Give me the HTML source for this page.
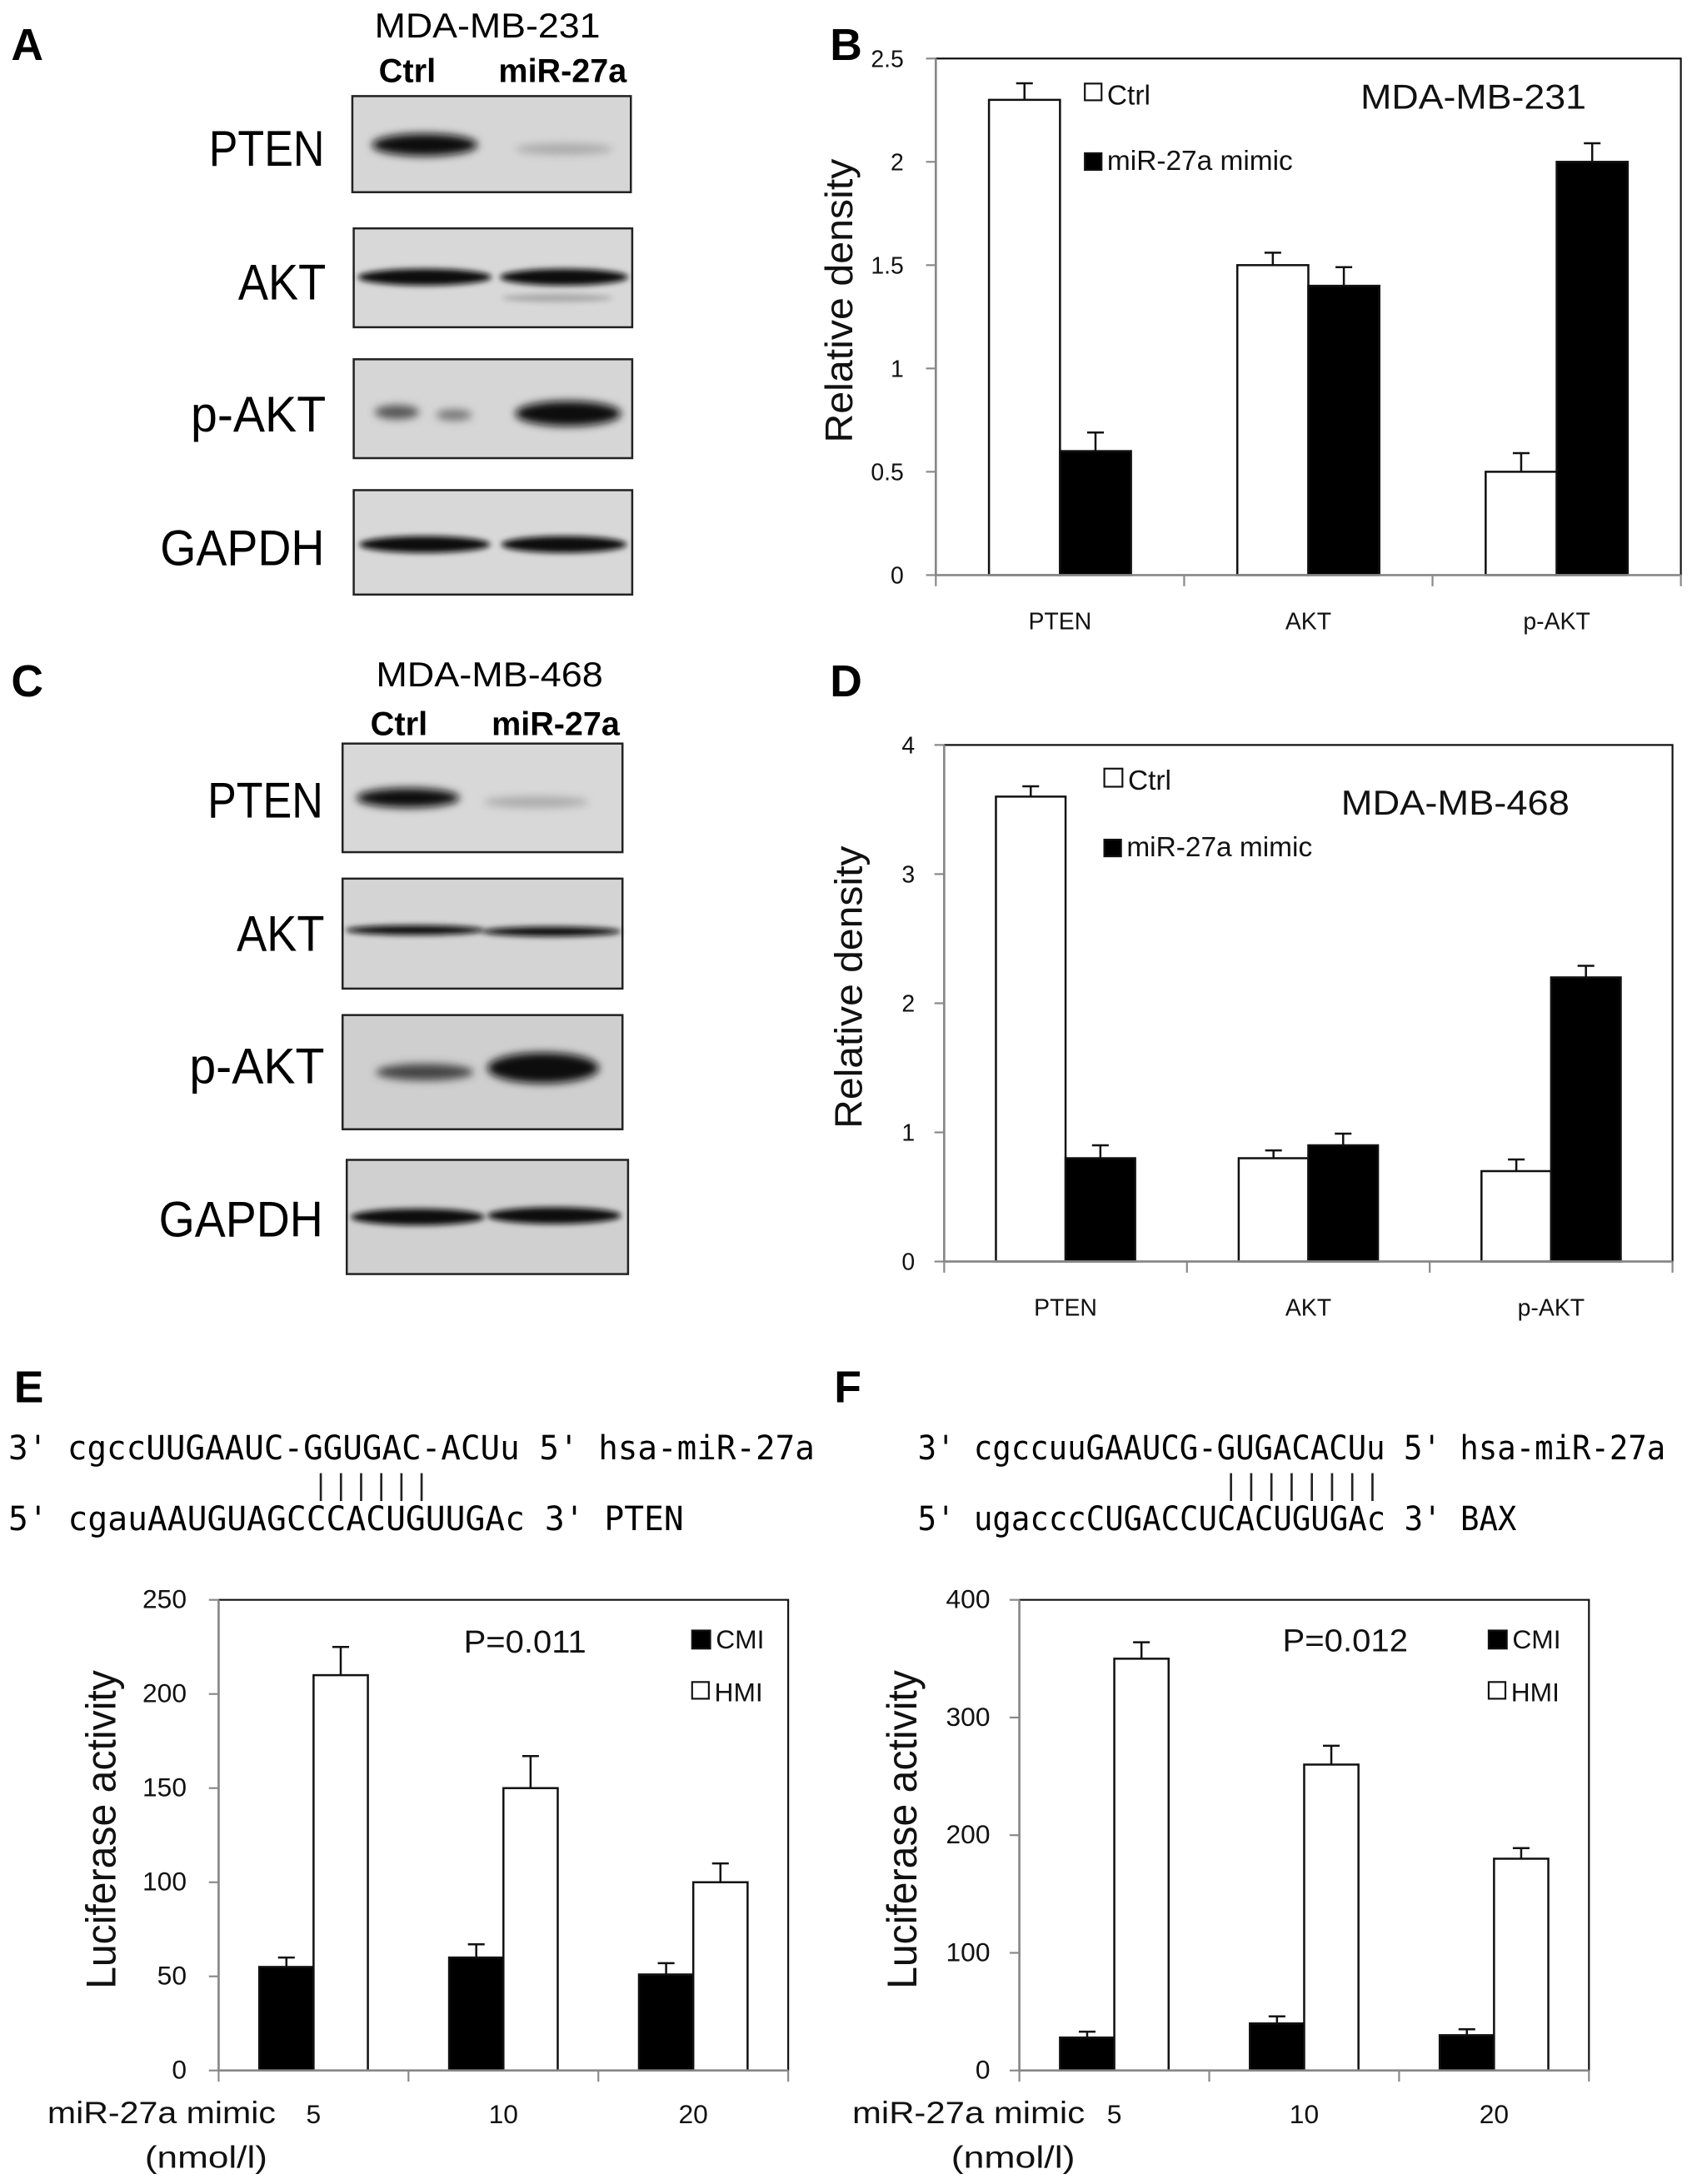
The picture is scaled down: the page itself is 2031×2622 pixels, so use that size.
<!DOCTYPE html>
<html><head><meta charset="utf-8">
<style>
html,body{margin:0;padding:0;background:#fff;}
svg{display:block;}
text{font-family:"Liberation Sans",sans-serif;}
.mono{font-family:"DejaVu Sans Mono","Liberation Mono",monospace;}
</style></head>
<body>
<svg id="fig" xmlns="http://www.w3.org/2000/svg" width="2031" height="2622" viewBox="0 0 1215 1568.5">
<defs>
<filter id="blur3" x="-20%" y="-100%" width="140%" height="300%"><feGaussianBlur stdDeviation="3"/></filter>
<filter id="blur2" x="-20%" y="-100%" width="140%" height="300%"><feGaussianBlur stdDeviation="2"/></filter>
</defs>
<rect x="0" y="0" width="1215" height="1568.5" fill="#fff"/>

<!-- Panel letters -->
<g font-weight="bold" font-size="32">
<text x="8" y="43">A</text>
<text x="596" y="43">B</text>
<text x="8" y="500">C</text>
<text x="596" y="500">D</text>
<text x="10" y="1007">E</text>
<text x="599" y="1007">F</text>
</g>

<!-- Panel A blots -->
<g>
<text x="269" y="27" font-size="25" textLength="162" lengthAdjust="spacingAndGlyphs">MDA-MB-231</text>
<text x="272" y="59" font-size="24" font-weight="bold" textLength="41" lengthAdjust="spacingAndGlyphs">Ctrl</text>
<text x="358" y="59" font-size="24" font-weight="bold" textLength="92" lengthAdjust="spacingAndGlyphs">miR-27a</text>
<g font-size="36">
<text x="233" y="119" text-anchor="end" textLength="83" lengthAdjust="spacingAndGlyphs">PTEN</text>
<text x="234" y="215" text-anchor="end" textLength="63" lengthAdjust="spacingAndGlyphs">AKT</text>
<text x="234" y="310" text-anchor="end" textLength="97" lengthAdjust="spacingAndGlyphs">p-AKT</text>
<text x="233" y="406" text-anchor="end" textLength="118" lengthAdjust="spacingAndGlyphs">GAPDH</text>
</g>
<g>
<rect x="253" y="69" width="200" height="69" fill="#d6d6d6" stroke="#222" stroke-width="1.5"/>
<ellipse cx="305" cy="104" rx="38" ry="8" fill="#111" filter="url(#blur3)"/>
<ellipse cx="405" cy="107" rx="35" ry="4" fill="#aaa" filter="url(#blur3)"/>
</g>
<g>
<rect x="254" y="164" width="200" height="71" fill="#d8d8d8" stroke="#222" stroke-width="1.5"/>
<ellipse cx="305" cy="199" rx="48" ry="6" fill="#111" filter="url(#blur2)"/>
<ellipse cx="405" cy="199" rx="46" ry="6" fill="#111" filter="url(#blur2)"/>
<ellipse cx="400" cy="214" rx="40" ry="3" fill="#aaa" filter="url(#blur2)"/>
</g>
<g>
<rect x="254" y="258" width="200" height="71" fill="#d6d6d6" stroke="#222" stroke-width="1.5"/>
<ellipse cx="285" cy="296" rx="16" ry="5" fill="#555" filter="url(#blur3)"/>
<ellipse cx="326" cy="298" rx="13" ry="4" fill="#777" filter="url(#blur3)"/>
<ellipse cx="408" cy="297" rx="38" ry="9" fill="#111" filter="url(#blur3)"/>
</g>
<g>
<rect x="254" y="352" width="200" height="75" fill="#d8d8d8" stroke="#222" stroke-width="1.5"/>
<ellipse cx="305" cy="391" rx="47" ry="6" fill="#111" filter="url(#blur2)"/>
<ellipse cx="405" cy="391" rx="45" ry="6" fill="#111" filter="url(#blur2)"/>
</g>
</g>

<!-- Panel C blots -->
<g>
<text x="270" y="493" font-size="25" textLength="163" lengthAdjust="spacingAndGlyphs">MDA-MB-468</text>
<text x="266" y="528" font-size="24" font-weight="bold" textLength="41" lengthAdjust="spacingAndGlyphs">Ctrl</text>
<text x="353" y="528" font-size="24" font-weight="bold" textLength="92" lengthAdjust="spacingAndGlyphs">miR-27a</text>
<g font-size="36">
<text x="232" y="587" text-anchor="end" textLength="83" lengthAdjust="spacingAndGlyphs">PTEN</text>
<text x="233" y="683" text-anchor="end" textLength="63" lengthAdjust="spacingAndGlyphs">AKT</text>
<text x="233" y="778" text-anchor="end" textLength="97" lengthAdjust="spacingAndGlyphs">p-AKT</text>
<text x="232" y="888" text-anchor="end" textLength="118" lengthAdjust="spacingAndGlyphs">GAPDH</text>
</g>
<g>
<rect x="246" y="534" width="201" height="78" fill="#d8d8d8" stroke="#222" stroke-width="1.5"/>
<ellipse cx="293" cy="573" rx="37" ry="7" fill="#111" filter="url(#blur3)"/>
<ellipse cx="385" cy="576" rx="38" ry="4" fill="#aaa" filter="url(#blur3)"/>
</g>
<g>
<rect x="246" y="631" width="201" height="79" fill="#d4d4d4" stroke="#222" stroke-width="1.5"/>
<ellipse cx="298" cy="668" rx="50" ry="3.5" fill="#111" filter="url(#blur2)"/>
<ellipse cx="396" cy="669" rx="50" ry="3.5" fill="#111" filter="url(#blur2)"/>
</g>
<g>
<rect x="246" y="729" width="201" height="82" fill="#cfcfcf" stroke="#222" stroke-width="1.5"/>
<ellipse cx="305" cy="770" rx="35" ry="6" fill="#444" filter="url(#blur3)"/>
<ellipse cx="390" cy="767" rx="40" ry="11" fill="#111" filter="url(#blur3)"/>
</g>
<g>
<rect x="249" y="833" width="202" height="82" fill="#d0d0d0" stroke="#222" stroke-width="1.5"/>
<ellipse cx="300" cy="874" rx="48" ry="6" fill="#111" filter="url(#blur2)"/>
<ellipse cx="398" cy="873" rx="48" ry="6" fill="#111" filter="url(#blur2)"/>
</g>
</g>

<!-- Sequences -->
<g class="mono" font-size="24">
<text class="mono" x="6" y="1048" xml:space="preserve" textLength="579" lengthAdjust="spacingAndGlyphs">3' cgccUUGAAUC-GGUGAC-ACUu 5' hsa-miR-27a</text>
<text class="mono" x="6" y="1099" xml:space="preserve" textLength="485" lengthAdjust="spacingAndGlyphs">5' cgauAAUGUAGCCCACUGUUGAc 3' PTEN</text>
<text class="mono" x="659" y="1048" xml:space="preserve" textLength="537" lengthAdjust="spacingAndGlyphs">3' cgccuuGAAUCG-GUGACACUu 5' hsa-miR-27a</text>
<text class="mono" x="659" y="1099" xml:space="preserve" textLength="430" lengthAdjust="spacingAndGlyphs">5' ugacccCUGACCUCACUGUGAc 3' BAX</text>
</g>
<g id="pipes" stroke="#222" stroke-width="1.6"></g>

<g id="charts"></g>
</svg>

<script>
// ===== Chart B data =====
var bCategories = ["PTEN", "AKT", "p-AKT"];
var bCtrl = [2.3, 1.5, 0.5];
var bCtrlErr = [0.08, 0.06, 0.09];
var bMimic = [0.6, 1.4, 2.0];
var bMimicErr = [0.09, 0.09, 0.09];
var bTicks = ["0", "0.5", "1", "1.5", "2", "2.5"];
// ===== Chart D data =====
var dCategories = ["PTEN", "AKT", "p-AKT"];
var dCtrl = [3.6, 0.8, 0.7];
var dCtrlErr = [0.08, 0.06, 0.09];
var dMimic = [0.8, 0.9, 2.2];
var dMimicErr = [0.1, 0.09, 0.09];
var dTicks = ["0", "1", "2", "3", "4"];
// ===== Chart E data =====
var eCategories = ["5", "10", "20"];
var eCMI = [55, 60, 51];
var eCMIErr = [5, 7, 6];
var eHMI = [210, 150, 100];
var eHMIErr = [15, 17, 10];
var eTicks = ["0", "50", "100", "150", "200", "250"];
// ===== Chart F data =====
var fCategories = ["5", "10", "20"];
var fCMI = [28, 40, 30];
var fCMIErr = [5, 6, 5];
var fHMI = [350, 260, 180];
var fHMIErr = [14, 16, 9];
var fTicks = ["0", "100", "200", "300", "400"];

var NS = "http://www.w3.org/2000/svg";
function mk(tag, attrs, parent) {
  var e = document.createElementNS(NS, tag);
  for (var k in attrs) e.setAttribute(k, attrs[k]);
  if (parent) parent.appendChild(e);
  return e;
}

// base-pair pipes
(function () {
  var g = document.getElementById("pipes");
  var cw = 14.475;
  var sets = [{x0: 6, start: 15, n: 6}, {x0: 659, start: 15, n: 8}];
  sets.forEach(function (s) {
    var w = s.x0 === 6 ? 579 / 40 : 537 / 37;
    for (var i = 0; i < s.n; i++) {
      var x = s.x0 + (s.start + i + 0.5) * w;
      var l = mk("line", {x1: x, x2: x, y1: 1058, y2: 1078}, g);
      
      
    }
  });
})();

function chart(cfg) {
  var root = document.getElementById("charts");
  var g = mk("g", {}, root);
  
  
  var L = cfg.left, R = cfg.right, T = cfg.top, B = cfg.bottom;
  var maxV = parseFloat(cfg.ticks[cfg.ticks.length - 1]);
  function y(v) { return B - (v / maxV) * (B - T); }
  var n = cfg.cats.length, cwid = (R - L) / n;
  function xc(i) { return L + cwid * (i + 0.5); }
  // frame top/right
  var fr = mk("path", {d: "M" + L + " " + T + "H" + R + "V" + B, fill: "none", stroke: "#111", "stroke-width": 1.3}, g);
  
  
  // y ticks
  cfg.ticks.forEach(function (t) {
    var yy = y(parseFloat(t));
    var tl = mk("line", {x1: L - 7, x2: L, y1: yy, y2: yy, stroke: "#888", "stroke-width": 1.3}, g);
    
    
    var tx = mk("text", {x: cfg.tickRight, y: yy + 6, "text-anchor": "end", "font-size": cfg.tickFont, fill: "#111"}, g);
    tx.textContent = t;
    
    
  });
  // x ticks
  for (var i = 0; i <= n; i++) {
    var xx = L + cwid * i;
    var xt = mk("line", {x1: xx, x2: xx, y1: B, y2: B + 8, stroke: "#888", "stroke-width": 1.3}, g);
    
    
  }
  // bars
  var bw = cfg.barW;
  cfg.series.forEach(function (s, si) {
    s.vals.forEach(function (v, i) {
      var x0 = xc(i) - bw + si * bw;
      var yt = y(v);
      var eb = mk("path", {d: "M" + (x0 + bw / 2) + " " + yt + "V" + y(v + s.err[i]) + "M" + (x0 + bw / 2 - 6) + " " + y(v + s.err[i]) + "H" + (x0 + bw / 2 + 6), stroke: "#111", "stroke-width": 1.5, fill: "none"}, g);
      
      
      var r = mk("rect", {x: x0, y: yt, width: bw, height: B - yt, fill: s.fill, stroke: "#111", "stroke-width": 1.5}, g);
      
      
    });
  });
  // axes
  var ax = mk("path", {d: "M" + L + " " + T + "V" + B + "H" + R, fill: "none", stroke: "#888", "stroke-width": 1.6}, g);
  
  
  // x labels
  cfg.cats.forEach(function (c, i) {
    var t = mk("text", {x: xc(i), y: cfg.xLabelY, "text-anchor": "middle", "font-size": cfg.xFont, fill: "#111"}, g);
    t.textContent = c;
    
    
  });
  // y title
  var yt2 = mk("text", {x: 0, y: 0, "text-anchor": "middle", "font-size": cfg.titleFont, fill: "#111", textLength: cfg.titleLen, lengthAdjust: "spacingAndGlyphs", transform: "translate(" + cfg.titleX + "," + cfg.titleY + ") rotate(-90)"}, g);
  yt2.textContent = cfg.yTitle;
  
  
  // legend
  cfg.legend.forEach(function (lg) {
    var lr = mk("rect", {x: lg.x, y: lg.y, width: lg.s, height: lg.s, fill: lg.fill, stroke: "#111", "stroke-width": 1.3}, g);
    
    
    var lt = mk("text", {x: lg.x + lg.s + 4, y: lg.ty, "font-size": lg.font, fill: "#111"}, g);
    lt.textContent = lg.label;
    
    
  });
  cfg.extra.forEach(function (ex) {
    var t = mk("text", {x: ex.x, y: ex.y, "font-size": ex.font, fill: "#111", textLength: ex.len, lengthAdjust: "spacingAndGlyphs"}, g);
    t.textContent = ex.text;
    
    
  });
}

chart({name: "chart-b", left: 672, right: 1207, top: 42, bottom: 413, cats: bCategories, ticks: bTicks,
  series: [{key: "ctrl", vals: bCtrl, err: bCtrlErr, fill: "#fff"}, {key: "mimic", vals: bMimic, err: bMimicErr, fill: "#000"}],
  barW: 51, tickRight: 649, tickFont: 17, xLabelY: 452, xFont: 17, yTitle: "Relative density", titleX: 612, titleY: 216, titleLen: 204, titleFont: 28,
  legend: [{x: 779, y: 60, s: 12, fill: "#fff", label: "Ctrl", ty: 75, font: 20}, {x: 779, y: 110, s: 12, fill: "#000", label: "miR-27a mimic", ty: 122, font: 20}],
  extra: [{x: 977, y: 78, font: 25, len: 162, text: "MDA-MB-231", name: "chart-b-title"}]});

chart({name: "chart-d", left: 678, right: 1201, top: 535, bottom: 906, cats: dCategories, ticks: dTicks,
  series: [{key: "ctrl", vals: dCtrl, err: dCtrlErr, fill: "#fff"}, {key: "mimic", vals: dMimic, err: dMimicErr, fill: "#000"}],
  barW: 50, tickRight: 657, tickFont: 17, xLabelY: 945, xFont: 17, yTitle: "Relative density", titleX: 619, titleY: 709, titleLen: 203, titleFont: 28,
  legend: [{x: 793, y: 552, s: 13, fill: "#fff", label: "Ctrl", ty: 567, font: 20}, {x: 793, y: 603, s: 12, fill: "#000", label: "miR-27a mimic", ty: 615, font: 20}],
  extra: [{x: 963, y: 585, font: 25, len: 164, text: "MDA-MB-468", name: "chart-d-title"}]});

chart({name: "chart-e", left: 157, right: 566, top: 1149, bottom: 1487, cats: eCategories, ticks: eTicks,
  series: [{key: "cmi", vals: eCMI, err: eCMIErr, fill: "#000"}, {key: "hmi", vals: eHMI, err: eHMIErr, fill: "#fff"}],
  barW: 39, tickRight: 134, tickFont: 19, xLabelY: 1525, xFont: 19, yTitle: "Luciferase activity", titleX: 83, titleY: 1314, titleLen: 229, titleFont: 30,
  legend: [{x: 497, y: 1171, s: 13, fill: "#000", label: "CMI", ty: 1184, font: 19}, {x: 497, y: 1208, s: 12, fill: "#fff", label: "HMI", ty: 1222, font: 19}],
  extra: [{x: 333, y: 1187, font: 23, len: 88, text: "P=0.011", name: "p-value-e"},
          {x: 34, y: 1525, font: 22, len: 164, text: "miR-27a mimic", name: "x-axis-title-e"},
          {x: 104, y: 1557, font: 22, len: 88, text: "(nmol/l)", name: "x-axis-unit-e"}]});

chart({name: "chart-f", left: 732, right: 1141, top: 1149, bottom: 1487, cats: fCategories, ticks: fTicks,
  series: [{key: "cmi", vals: fCMI, err: fCMIErr, fill: "#000"}, {key: "hmi", vals: fHMI, err: fHMIErr, fill: "#fff"}],
  barW: 39, tickRight: 711, tickFont: 19, xLabelY: 1525, xFont: 19, yTitle: "Luciferase activity", titleX: 658, titleY: 1314, titleLen: 229, titleFont: 30,
  legend: [{x: 1069, y: 1171, s: 13, fill: "#000", label: "CMI", ty: 1184, font: 19}, {x: 1069, y: 1208, s: 12, fill: "#fff", label: "HMI", ty: 1222, font: 19}],
  extra: [{x: 921, y: 1186, font: 23, len: 90, text: "P=0.012", name: "p-value-f"},
          {x: 612, y: 1525, font: 22, len: 167, text: "miR-27a mimic", name: "x-axis-title-f"},
          {x: 683, y: 1557, font: 22, len: 89, text: "(nmol/l)", name: "x-axis-unit-f"}]});
</script>
</body></html>
